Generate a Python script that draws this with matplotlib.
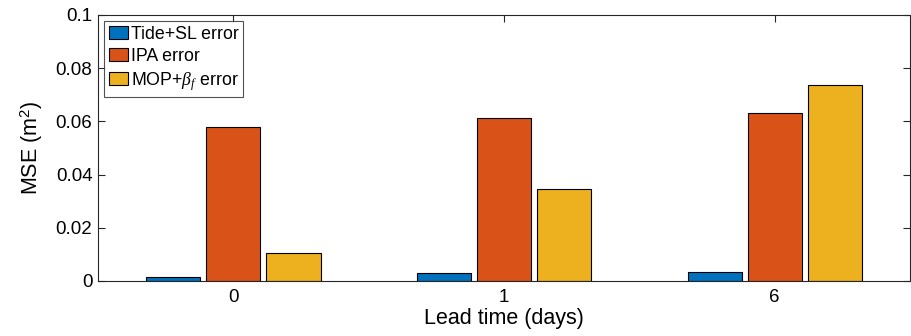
import matplotlib
matplotlib.use("Agg")
import matplotlib.pyplot as plt
import numpy as np

plt.rcParams['font.family'] = ['Liberation Sans', 'DejaVu Sans']
plt.rcParams['mathtext.fontset'] = 'custom'
plt.rcParams['mathtext.it'] = 'Liberation Serif:italic'
plt.rcParams['mathtext.rm'] = 'Liberation Sans'

categories = ['0', '1', '6']
tide_sl = [0.0015, 0.0031, 0.0033]
ipa = [0.0579, 0.0613, 0.0633]
mop_beta = [0.0105, 0.0346, 0.0738]
series_names = ['Tide+SL error', 'IPA error', 'MOP+$\\beta_f$ error']
yticks = [0, 0.02, 0.04, 0.06, 0.08, 0.1]
ytick_labels = ['0', '0.02', '0.04', '0.06', '0.08', '0.1']

colors = ['#0072BD', '#D95319', '#EDB120']
axcol = '#262626'

fig = plt.figure(figsize=(9.11, 3.36), dpi=100)
ax = fig.add_axes([0.1076, 0.1637, 0.8913, 0.7917])

x = np.arange(1, len(categories) + 1)
w = 0.2
offs = [-0.222, 0.0, 0.222]
for vals, off, c, name in zip([tide_sl, ipa, mop_beta], offs, colors, series_names):
    ax.bar(x + off, vals, width=w, color=c, edgecolor='black', linewidth=0.8, label=name, zorder=2)

ax.set_xlim(0.5, 3.5)
ax.set_ylim(0, 0.1)
ax.set_xticks(x)
ax.set_xticklabels(categories)
ax.set_yticks(yticks)
ax.set_yticklabels(ytick_labels)
ax.tick_params(direction='in', top=True, right=True, labelsize=13.5, colors=axcol,
               length=5, width=0.8, labelcolor='black')
ax.tick_params(axis='x', pad=6)
ax.tick_params(axis='y', pad=4)
for s in ax.spines.values():
    s.set_color(axcol)
    s.set_linewidth(0.8)
ax.set_xlabel('Lead time (days)', fontsize=15.5, labelpad=1)
ax.set_ylabel('MSE (m$^2$)', fontsize=15.5, labelpad=8)

leg = ax.legend(loc='upper left', fontsize=12.8, frameon=True, fancybox=False,
                borderpad=0.25, handlelength=1.1, handleheight=0.7, handletextpad=0.15,
                labelspacing=0.28, borderaxespad=0.35)
leg.get_frame().set_edgecolor(axcol)
leg.get_frame().set_linewidth(0.8)

fig.savefig('out.png', dpi=100)
